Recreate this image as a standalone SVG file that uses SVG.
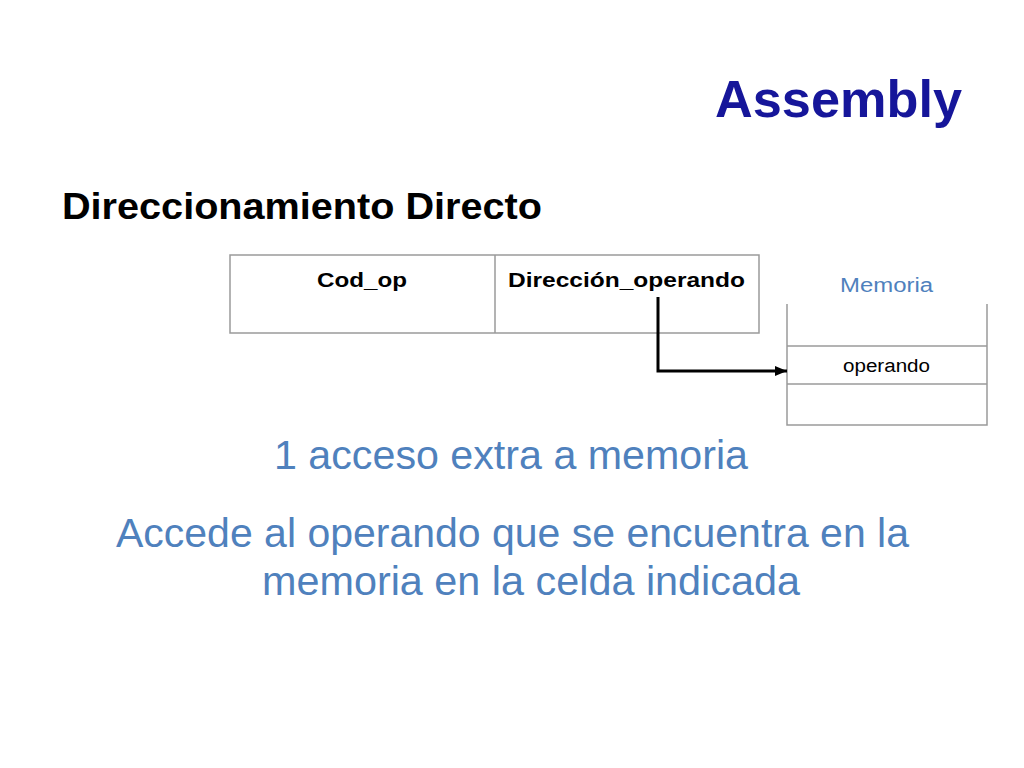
<svg xmlns="http://www.w3.org/2000/svg" width="1024" height="768" viewBox="0 0 1024 768">
<defs>
<style>
text{font-family:"Liberation Sans","Open Sans",Arial,sans-serif}
.b{font-weight:bold}
.blue{fill:#4F81BD}
.cell{fill:none;stroke:#9a9a9a;stroke-width:1.5}
.conn{fill:none;stroke:#000;stroke-width:3}
</style>
<marker id="ah" markerWidth="12" markerHeight="10" refX="12" refY="5" orient="auto" markerUnits="userSpaceOnUse" viewBox="0 0 12 10">
<path d="M0,0 L12,5 L0,10 Z" fill="#000"/>
</marker>
</defs>
<rect width="1024" height="768" fill="#fff"/>
<g id="title">
<text x="715" y="117" class="b" font-size="52" fill="#16169A" textLength="247" lengthAdjust="spacingAndGlyphs">Assembly</text>
</g>
<g id="subtitle">
<text x="62" y="219" class="b" font-size="37" fill="#000" textLength="480" lengthAdjust="spacingAndGlyphs">Direccionamiento Directo</text>
</g>
<g id="instruction">
<rect class="cell" x="230" y="255" width="529" height="78"/>
<line class="cell" x1="495" y1="255" x2="495" y2="333"/>
<text x="317" y="287" class="b" font-size="21" fill="#000" textLength="90" lengthAdjust="spacingAndGlyphs">Cod_op</text>
<text x="508" y="287" class="b" font-size="21" fill="#000" textLength="237" lengthAdjust="spacingAndGlyphs">Dirección_operando</text>
</g>
<g id="memoria">
<text x="840" y="292" font-size="20" class="blue" textLength="93" lengthAdjust="spacingAndGlyphs">Memoria</text>
<path class="cell" d="M787,304 V425 H987 V304"/>
<line class="cell" x1="787" y1="346" x2="987" y2="346"/>
<line class="cell" x1="787" y1="384" x2="987" y2="384"/>
<text x="843" y="372" font-size="18" fill="#000" textLength="87" lengthAdjust="spacingAndGlyphs">operando</text>
</g>
<g id="connectors">
<path class="conn" d="M658,297 V371 H787" marker-end="url(#ah)"/>
</g>
<g id="notes">
<text x="274" y="469" font-size="41" class="blue" textLength="474" lengthAdjust="spacingAndGlyphs">1 acceso extra a memoria</text>
<text x="116" y="547" font-size="41" class="blue" textLength="793" lengthAdjust="spacingAndGlyphs">Accede al operando que se encuentra en la</text>
<text x="262" y="595" font-size="41" class="blue" textLength="538" lengthAdjust="spacingAndGlyphs">memoria en la celda indicada</text>
</g>
</svg>
